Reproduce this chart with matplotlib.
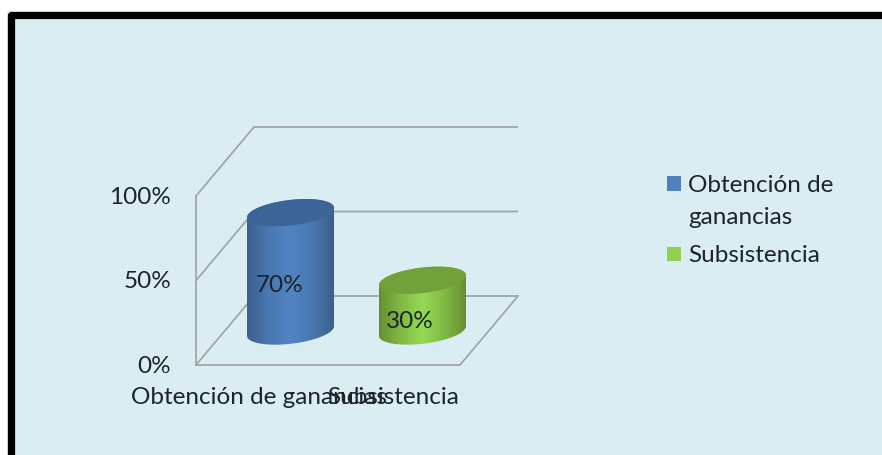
# -*- coding: utf-8 -*-
import numpy as np
import matplotlib
matplotlib.use('Agg')
import matplotlib.pyplot as plt
from matplotlib.colors import LinearSegmentedColormap
from matplotlib.patches import Polygon, Rectangle

'''
DATA
'''
categories = ['Obtención de ganancias', 'Subsistencia']
values = [70, 30]
value_labels = ['70%', '30%']
tick_values = [0, 50, 100]
tick_labels = ['0%', '50%', '100%']
legend_lines = [['Obtención de', 'ganancias'], ['Subsistencia']]

'''
CONFIG parameters
'''
plt.rcParams['font.family'] = ['Lato', 'DejaVu Sans']
font_size = 17.5
text_color = '#1c2428'
bg_color = '#daedf3'
grid_color = '#a3a6a8'

# plot box of the fake 3d chart, in pixels
x_front, x_front_right = 196, 460
y_floor, px_per_pct = 365, 1.69
dx_depth, dy_depth = 58, 69

# cylinders
cyl_cx = [290.5, 422.5]
cyl_base = [331, 331]
cyl_a, cyl_b, cyl_tilt = 43.5, 12.8, 4.8
side_colors = [['#3a5f8e', '#4a78b0', '#5184c4', '#4a78b0', '#3a5f8e'],
               ['#668f30', '#82b944', '#95da52', '#82b944', '#668f30']]
top_colors = ['#3d6496', '#72a03a']
legend_colors = ['#4f81bd', '#92d050']


def val_y(v):
    return y_floor - v * px_per_pct


def ellipse_pts(cx, cy, start=0, stop=2 * np.pi):
    t = np.linspace(start, stop, 80)
    x = cx + cyl_a * np.cos(t)
    y = cy + cyl_b * np.sin(t) - cyl_tilt * np.cos(t)
    return np.column_stack([x, y])


fig = plt.figure(figsize=(8.82, 4.55), dpi=100)
ax = fig.add_axes([0, 0, 1, 1])
ax.set_xlim(0, 882)
ax.set_ylim(455, 0)
ax.set_axis_off()

# frame
ax.add_patch(Rectangle((7, 11), 900, 460, fc=bg_color, ec='none', zorder=0))
ax.plot([10.5, 10.5, 882], [455, 14.5, 14.5], color='black', lw=5.2, zorder=1,
        solid_joinstyle='round')

# walls and floor
for v in tick_values:
    y = val_y(v)
    ax.plot([x_front, x_front + dx_depth, x_front_right + dx_depth - 1],
            [y, y - dy_depth, y - dy_depth], color=grid_color, lw=1.3, zorder=2)
ax.plot([x_front, x_front], [val_y(0), val_y(100)], color=grid_color, lw=1.3, zorder=2)
ax.plot([x_front, x_front_right, x_front_right + dx_depth],
        [y_floor, y_floor, y_floor - dy_depth], color=grid_color, lw=1.3, zorder=2)

# cylinders
for i, v in enumerate(values):
    cx = cyl_cx[i]
    base = cyl_base[i]
    top = base - v * px_per_pct
    bottom_half = ellipse_pts(cx, base, 0, np.pi)
    top_half = ellipse_pts(cx, top, np.pi, 2 * np.pi)
    body = Polygon(np.vstack([bottom_half, top_half]), closed=True, fc='none', ec='none',
                   transform=ax.transData)
    ax.add_patch(body)
    cmap = LinearSegmentedColormap.from_list('side', side_colors[i])
    grad = np.linspace(0, 1, 256).reshape(1, -1)
    im = ax.imshow(grad, cmap=cmap, aspect='auto', zorder=3,
                   extent=[cx - cyl_a, cx + cyl_a, base + 20, top - 20])
    im.set_clip_path(body)
    ax.add_patch(Polygon(ellipse_pts(cx, top), closed=True, fc=top_colors[i], ec='none', zorder=4))

ax.set_xlim(0, 882)
ax.set_ylim(455, 0)

# value labels
ax.text(279.5, 285.5, value_labels[0], fontsize=font_size, color=text_color, ha='center', va='center', zorder=5)
ax.text(410, 321.5, value_labels[1], fontsize=font_size, color=text_color, ha='center', va='center', zorder=5)

# axis labels
for v, lab in zip(tick_values, tick_labels):
    ax.text(171, val_y(v) + 1.5, lab, fontsize=font_size, color=text_color, ha='right', va='center')
ax.text(259, 398, categories[0], fontsize=font_size, color=text_color, ha='center', va='center')
ax.text(393, 398, categories[1], fontsize=font_size, color=text_color, ha='center', va='center')

# legend
ax.add_patch(Rectangle((667, 176), 14, 15, fc=legend_colors[0], ec='none'))
ax.add_patch(Rectangle((667, 247), 14, 14, fc=legend_colors[1], ec='none'))
ax.text(688, 185, legend_lines[0][0], fontsize=font_size, color=text_color, va='center')
ax.text(688, 217, legend_lines[0][1], fontsize=font_size, color=text_color, va='center')
ax.text(688, 255, legend_lines[1][0], fontsize=font_size, color=text_color, va='center')

fig.savefig('out.png', dpi=100, facecolor='white')
